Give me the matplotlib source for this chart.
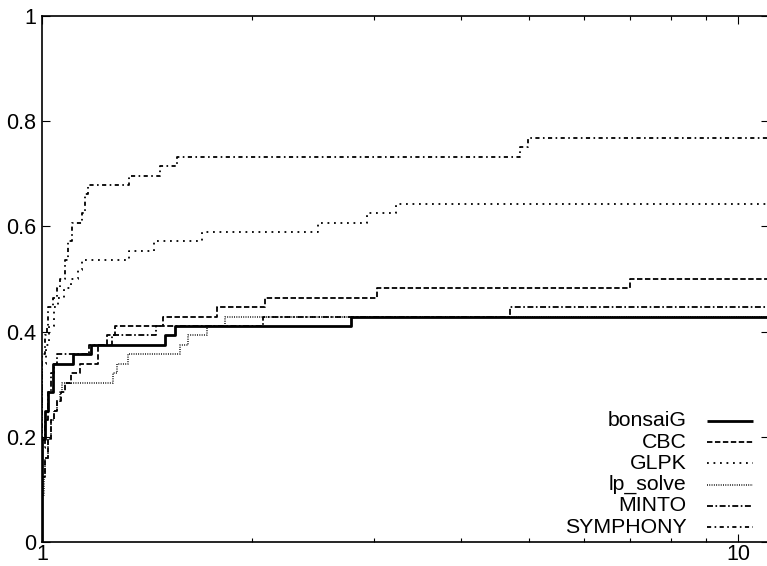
import matplotlib
matplotlib.use("Agg")
import matplotlib.pyplot as plt
from matplotlib.lines import Line2D
from matplotlib.ticker import FixedLocator, NullFormatter

plt.rcParams["font.family"] = ["Liberation Sans", "DejaVu Sans"]

# Performance profile: fraction of the 56 test problems solved within
# a factor tau of the best solver.
N_PROBLEMS = 56
TAU_MAX = 11.08

solvers = ["bonsaiG", "CBC", "GLPK", "lp_solve", "MINTO", "SYMPHONY"]

bonsaig_tau = [1.0, 1.0, 1.010, 1.020, 1.036, 1.109, 1.176, 1.502, 1.552, 2.78]
bonsaig_solved = [0, 11, 14, 16, 19, 20, 21, 22, 23, 24]

cbc_tau = [1.0, 1.0, 1.010, 1.020, 1.030, 1.040, 1.050, 1.065, 1.080, 1.100,
           1.134, 1.205, 1.239, 1.273, 1.494, 1.782, 2.09, 3.025, 6.99]
cbc_solved = [0, 7, 9, 11, 13, 14, 15, 16, 17, 18,
              19, 21, 22, 23, 24, 25, 26, 27, 28]

glpk_tau = [1.0, 1.0, 1.012, 1.025, 1.040, 1.055, 1.075, 1.100, 1.128, 1.140,
            1.335, 1.448, 1.699, 2.494, 2.926, 3.22]
glpk_solved = [0, 19, 21, 23, 25, 26, 27, 28, 29, 30,
               31, 32, 33, 34, 35, 36]

lpsolve_tau = [1.0, 1.0, 1.005, 1.010, 1.020, 1.030, 1.040, 1.050, 1.060, 1.067,
               1.263, 1.280, 1.330, 1.578, 1.622, 1.724, 1.831]
lpsolve_solved = [0, 5, 7, 9, 11, 13, 14, 15, 16, 17,
                  18, 19, 20, 21, 22, 23, 24]

minto_tau = [1.0, 1.0, 1.010, 1.020, 1.030, 1.040, 1.050, 1.170, 1.260, 1.460,
             2.08, 4.70]
minto_solved = [0, 10, 13, 16, 18, 19, 20, 21, 22, 23,
                24, 25]

symphony_tau = [1.0, 1.0, 1.010, 1.016, 1.021, 1.038, 1.050, 1.061, 1.079, 1.091,
                1.103, 1.140, 1.153, 1.166, 1.335, 1.477, 1.561, 4.86, 4.99]
symphony_solved = [0, 20, 22, 23, 25, 26, 27, 28, 30, 32,
                   34, 35, 37, 38, 39, 40, 41, 42, 43]

series = [
    (bonsaig_tau, bonsaig_solved, dict(lw=2.0, linestyle="-")),
    (cbc_tau, cbc_solved, dict(lw=1.3, linestyle=(0, (3.0, 1.4)))),
    (glpk_tau, glpk_solved, dict(lw=1.3, linestyle=(0, (1.0, 2.6)))),
    (lpsolve_tau, lpsolve_solved, dict(lw=1.1, linestyle=(0, (0.6, 0.9)))),
    (minto_tau, minto_solved, dict(lw=1.3, linestyle=(0, (3.3, 1.4, 0.9, 1.4)))),
    (symphony_tau, symphony_solved, dict(lw=1.3, linestyle=(0, (2.3, 1.9, 0.9, 1.9)))),
]

W, H = 767, 566
fig = plt.figure(figsize=(W / 100, H / 100), dpi=100)
x0, x1, y0, y1 = 42.0, 769.3, 542.4, 15.7
ax = fig.add_axes([x0 / W, 1 - y0 / H, (x1 - x0) / W, (y0 - y1) / H])

for tau, solved, style in series:
    xs = list(tau) + [TAU_MAX]
    ys = [s / N_PROBLEMS for s in solved] + [solved[-1] / N_PROBLEMS]
    ax.step(xs, ys, where="post", color="black", solid_capstyle="butt",
            dash_capstyle="butt", **style)

ax.set_xscale("log")
ax.set_xlim(1, TAU_MAX)
ax.set_ylim(0, 1)

ax.xaxis.set_major_locator(FixedLocator([1, 10]))
ax.xaxis.set_minor_locator(FixedLocator([2, 3, 4, 5, 6, 7, 8, 9]))
ax.xaxis.set_minor_formatter(NullFormatter())
ax.set_xticklabels(["1", "10"])
ax.set_yticks([0, 0.2, 0.4, 0.6, 0.8, 1.0])
ax.set_yticklabels(["0", "0.2", "0.4", "0.6", "0.8", "1"])

ax.tick_params(which="both", direction="in", top=True, right=True,
               labelsize=15.5, width=0.8, color="black")
ax.tick_params(which="major", length=5.8)
ax.tick_params(axis="y", which="major", pad=4)
ax.tick_params(axis="x", which="major", pad=1.0)
ax.tick_params(which="minor", length=3.1)
for sp in ax.spines.values():
    sp.set_linewidth(1.2)

# Key in the lower right corner: label, then line sample
row_y = [420.7, 442.0, 463.3, 484.6, 505.9, 527.2]
for (tau, solved, style), name, ry in zip(series, solvers, row_y):
    fig.text(686.7 / W, 1 - ry / H, name, ha="right", va="center",
             fontsize=15.3, color="black")
    fig.add_artist(Line2D([706.7 / W, 753.0 / W], [1 - ry / H, 1 - ry / H],
                          transform=fig.transFigure, color="black",
                          solid_capstyle="butt", dash_capstyle="butt", **style))

fig.savefig("out.png", dpi=100)
